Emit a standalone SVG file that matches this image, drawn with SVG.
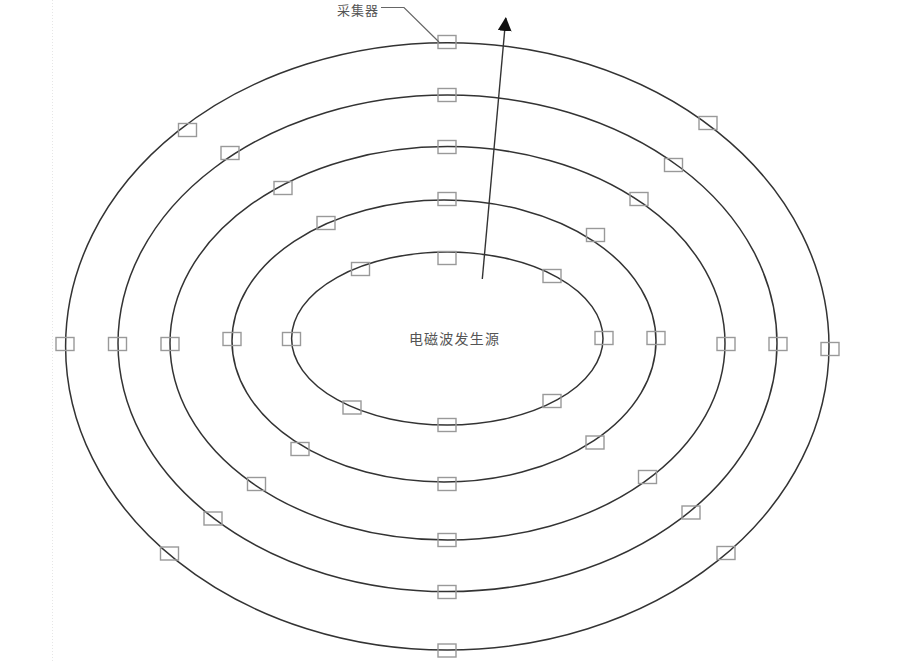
<svg xmlns="http://www.w3.org/2000/svg" width="909" height="661" viewBox="0 0 909 661">
  <style>
    .ring { fill: none; stroke: #333; stroke-width: 1.5; }
    .sensor { fill: none; stroke: #999; stroke-width: 1.4; }
    .lbl { font-family: "Noto Sans CJK SC", "Liberation Sans", sans-serif; fill: #555; }
    .conn { fill: none; stroke: #333; stroke-width: 1.4; }
    .lead { fill: none; stroke: #666; stroke-width: 1.2; }
  </style>
  <defs>
    <marker id="arrow" viewBox="0 0 14 14" refX="13" refY="7" markerWidth="14" markerHeight="14" markerUnits="userSpaceOnUse" orient="auto">
      <path d="M0,0 L14,7 L0,14 z" fill="#111"/>
    </marker>
  </defs>
  <rect width="909" height="661" fill="#fff"/>
  <line x1="52.5" y1="0" x2="52.5" y2="661" stroke="#e6e6e6" stroke-width="1" stroke-dasharray="1 2"/>

  <g id="rings">
    <ellipse id="ring1" class="ring" cx="447.3" cy="346.4" rx="381.7" ry="303.7"/>
    <ellipse id="ring2" class="ring" cx="447.5" cy="343.3" rx="329.5" ry="248.3"/>
    <ellipse id="ring3" class="ring" cx="447.5" cy="343.3" rx="277.5" ry="196.7"/>
    <ellipse id="ring4" class="ring" cx="444" cy="341" rx="212" ry="141"/>
    <ellipse id="ring5" class="ring" cx="447.3" cy="338.5" rx="155.7" ry="86.5"/>
  </g>

  <g id="sensors">
    <!-- top column -->
    <rect id="s-t1" class="sensor" x="438" y="35.5" width="18" height="13"/>
    <rect id="s-t2" class="sensor" x="438" y="88.5" width="18" height="13"/>
    <rect id="s-t3" class="sensor" x="438" y="140.5" width="18" height="13"/>
    <rect id="s-t4" class="sensor" x="438" y="192.5" width="18" height="13"/>
    <rect id="s-t5" class="sensor" x="438" y="251.5" width="18" height="13"/>
    <!-- bottom column -->
    <rect id="s-b5" class="sensor" x="438" y="418.5" width="18" height="13"/>
    <rect id="s-b4" class="sensor" x="438" y="477.5" width="18" height="13"/>
    <rect id="s-b3" class="sensor" x="438" y="533.5" width="18" height="13"/>
    <rect id="s-b2" class="sensor" x="438" y="585.5" width="18" height="13"/>
    <rect id="s-b1" class="sensor" x="438" y="644" width="18" height="13"/>
    <!-- left row -->
    <rect id="s-l1" class="sensor" x="56" y="337.5" width="18" height="13"/>
    <rect id="s-l2" class="sensor" x="108.5" y="337.5" width="18" height="13"/>
    <rect id="s-l3" class="sensor" x="161" y="337.5" width="18" height="13"/>
    <rect id="s-l4" class="sensor" x="223" y="332.5" width="18" height="13"/>
    <rect id="s-l5" class="sensor" x="282.5" y="332.5" width="18" height="13"/>
    <!-- right row -->
    <rect id="s-r5" class="sensor" x="595" y="331.5" width="18" height="13"/>
    <rect id="s-r4" class="sensor" x="647" y="331.5" width="18" height="13"/>
    <rect id="s-r3" class="sensor" x="717" y="337.5" width="18" height="13"/>
    <rect id="s-r2" class="sensor" x="769" y="337.5" width="18" height="13"/>
    <rect id="s-r1" class="sensor" x="821" y="342.5" width="18" height="13"/>
    <!-- upper-left diagonal -->
    <rect id="s-ul1" class="sensor" x="178.5" y="123.5" width="18" height="13"/>
    <rect id="s-ul2" class="sensor" x="221" y="146.5" width="18" height="13"/>
    <rect id="s-ul3" class="sensor" x="274" y="181.5" width="18" height="13"/>
    <rect id="s-ul4" class="sensor" x="317" y="216.5" width="18" height="13"/>
    <rect id="s-ul5" class="sensor" x="351.5" y="262.5" width="18" height="13"/>
    <!-- upper-right diagonal -->
    <rect id="s-ur1" class="sensor" x="699" y="116.5" width="18" height="13"/>
    <rect id="s-ur2" class="sensor" x="664.5" y="158.5" width="18" height="13"/>
    <rect id="s-ur3" class="sensor" x="630" y="192.5" width="18" height="13"/>
    <rect id="s-ur4" class="sensor" x="586.5" y="228.5" width="18" height="13"/>
    <rect id="s-ur5" class="sensor" x="543" y="269.5" width="18" height="13"/>
    <!-- lower-left diagonal -->
    <rect id="s-ll5" class="sensor" x="343" y="401" width="18" height="13"/>
    <rect id="s-ll4" class="sensor" x="291" y="442.5" width="18" height="13"/>
    <rect id="s-ll3" class="sensor" x="247.5" y="477.5" width="18" height="13"/>
    <rect id="s-ll2" class="sensor" x="204" y="512" width="18" height="13"/>
    <rect id="s-ll1" class="sensor" x="160.5" y="547" width="18" height="13"/>
    <!-- lower-right diagonal -->
    <rect id="s-lr5" class="sensor" x="543" y="394.5" width="18" height="13"/>
    <rect id="s-lr4" class="sensor" x="586" y="436" width="18" height="13"/>
    <rect id="s-lr3" class="sensor" x="638.5" y="470.5" width="18" height="13"/>
    <rect id="s-lr2" class="sensor" x="682" y="506" width="18" height="13"/>
    <rect id="s-lr1" class="sensor" x="717" y="546.5" width="18" height="13"/>
  </g>

  <g id="source-label">
    <text class="lbl" x="454.5" y="343.5" font-size="14" letter-spacing="1.2" text-anchor="middle">电磁波发生源</text>
  </g>
  <g id="collector-label">
    <text class="lbl" x="337" y="14.5" font-size="13" letter-spacing="1">采集器</text>
  </g>

  <g id="connectors">
    <polyline class="lead" points="381,7.5 404,7.5 439,42"/>
    <line class="conn" x1="482.3" y1="279" x2="505.8" y2="18" marker-end="url(#arrow)"/>
  </g>
</svg>
